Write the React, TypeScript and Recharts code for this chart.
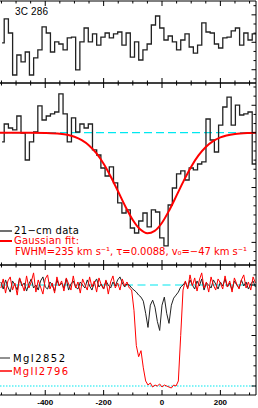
import { Line, LineChart, XAxis, YAxis } from "recharts"

const V_MIN = -555
const V_MAX = 322

// 21-cm spectra: 14.4 km/s bins, first bin centred just right of the left edge
const BIN_START = -547.8
const BIN_WIDTH = 14.4

// comparison source 3C 286 (flux change x 1000)
const ref3c286 = [
  -0.06, 2.04, 0.81, -2.86, -1.11, -1.72, -0.85, -2.86, -1.37, -0.67,
  1.34, 0.81, -0.85, 0.03, -0.15, -0.67, 0.38, 0.46, -2.42, 0.03,
  1.25, 0.03, 0.73, -0.24, 0.46, 0.81, 0.38, 0.73, 0.9, -0.24,
  0.81, -1.29, 0.03, -1.55, -0.67, -0.15, 1.51, 2.3, 1.25, 0.2,
  0.55, 0.03, -0.67, 0.2, 0.73, -0.41, -0.94, -0.24, 1.69, 0.9,
  0.81, -0.15, -0.5, 0.38, 0.46, 0.99, 1.25, -0.24, 0.81, 0.2,
  0.73, 0.03,
]

// target 21-cm absorption (flux change x 1000)
const target21cm = [
  -0.81, 0.76, 0.41, 0.24, 1.46, -0.03, -2.39, -0.81, 0.06, 2.34,
  1.11, 1.46, 1.64, 1.81, 3.39, 1.64, -0.81, 1.29, 0.06, 0.76,
  0.41, 0.76, -1.51, -1.95, -3.09, -3.79, -3.0, -4.4, -6.15, -7.03,
  -6.76, -8.34, -8.78, -7.73, -7.03, -8.25, -6.76, -6.94, -9.21, -9.91,
  -6.33, -4.84, -3.61, -3.35, -4.14, -3.09, -3.26, -2.74, -2.56, 1.2,
  -0.64, -1.69, 0.67, 2.25, 3.12, 0.67, 2.42, 1.55, 1.64, 1.81,
  -2.74, -2.39,
]

// Gaussian fit, FWHM 235 km/s, tau 0.0088, v0 -47 km/s
const fitVel = [
  -555, -450, -400, -350, -325, -300, -275, -250, -225, -200, -175, -150, -125, -100, -75,
  -50, -25, 0, 25, 50, 75, 100, 125, 150, 175, 200, 250, 300, 322,
]
const fitFlux = [
  0, 0, -0.02, -0.09, -0.18, -0.35, -0.65, -1.11, -1.79, -2.72, -3.87, -5.17, -6.48, -7.64, -8.46,
  -8.8, -8.59, -7.88, -6.78, -5.49, -4.17, -2.97, -1.99, -1.25, -0.74, -0.41, -0.11, -0.02, 0,
]

// optical spectra, 8 km/s pixels
const MG_START = -552
const MG_STEP = 8
const mgI2852 = [
  1.03, 0.96, 1.05, 0.98, 0.93, 1.04, 1.0, 0.95, 1.07, 0.99,
  1.02, 0.94, 1.01, 1.06, 0.97, 1.0, 0.95, 1.04, 1.08, 0.98,
  0.96, 1.03, 1.0, 0.94, 1.05, 0.99, 1.02, 0.97, 1.06, 0.95,
  1.01, 1.04, 0.98, 0.96, 1.03, 1.0, 0.97, 1.05, 0.99, 0.95,
  1.02, 1.06, 0.98, 1.01, 0.96, 1.04, 1.0, 0.97, 1.03, 0.99,
  1.05, 1.08, 1.02, 0.98, 1.01,
  1.0, 0.97, 0.95, 0.93, 0.9, 0.88, 0.84, 0.72, 0.58, 0.8,
  0.85, 0.78, 0.64, 0.55, 0.8, 0.88, 0.72, 0.62, 0.8, 0.87,
  0.9, 0.93, 0.98, 1.0,
  1.03, 0.97, 1.05, 1.0, 0.96, 1.04, 0.99, 1.06, 0.95, 1.02,
  1.0, 0.97, 1.05, 1.01, 0.96, 1.03, 0.99, 1.06, 0.98, 1.02,
  0.95, 1.04, 1.0, 0.97, 1.05, 0.99, 1.03, 0.96, 1.01, 1.04,
  0.98,
]
const mgII2796 = [
  0.97, 1.06, 0.92, 1.04, 1.08, 0.95, 1.02, 0.9, 1.07, 1.01,
  0.94, 1.09, 0.97, 1.03, 1.12, 0.93, 1.05, 0.98, 0.91, 1.06,
  1.1, 0.96, 1.02, 0.92, 1.08, 0.99, 1.04, 0.94, 1.07, 1.01,
  0.95, 1.09, 0.97, 1.03, 0.92, 1.06, 1.0, 0.95, 1.08, 0.98,
  1.04, 0.93, 1.07, 1.0, 0.96, 1.05, 0.91, 1.03, 1.09, 0.97,
  1.02, 0.95, 1.06, 0.99, 1.03,
  0.97, 0.95, 0.75, 0.4, 0.29, 0.35, 0.18, 0.05, 0.01, 0.03,
  -0.01, 0.01, 0.0, 0.02, -0.01, 0.01, 0.0, -0.01, -0.02, 0.01,
  0.0, 0.05, 0.5, 0.95,
  1.04, 0.96, 1.1, 0.99, 1.07, 0.94, 1.05, 1.12, 0.97, 1.03,
  0.93, 1.08, 1.0, 0.95, 1.06, 1.02, 0.96, 1.09, 0.98, 1.04,
  0.93, 1.07, 1.01, 0.96, 1.05, 1.1, 0.97, 1.03, 0.95, 1.08,
  1.02,
]

const majorX = [-400, -200, 0, 200]
const minorX = [-550, -500, -450, -350, -300, -250, -150, -100, -50, 50, 100, 150, 250, 300]

const hiMajorY = [-9.6, -4.8, 0, 2.4]
const hiMinorY = [
  -11.2, -10.4, -8.8, -8.0, -7.2, -6.4, -5.6, -4.0, -3.2, -2.4, -1.6, -0.8, 0.8, 1.6, 3.2, 4.0,
]
const topMajorY = [-2.4, 0, 2.4]
const topMinorY = [-3.2, -1.6, -0.8, 0.8, 1.6, 3.2]
const mgMajorY = [0, 0.5, 1.0]
const mgMinorY = [0.1, 0.2, 0.3, 0.4, 0.6, 0.7, 0.8, 0.9, 1.1]

const bins = (vals: number[]) => vals.map((y, i) => ({ v: BIN_START + i * BIN_WIDTH, y }))
const pixels = (vals: number[]) => vals.map((y, i) => ({ v: MG_START + i * MG_STEP, y }))
const fitData = fitVel.map((v, i) => ({ v, y: fitFlux[i] }))
const flat = (y: number) => [{ v: V_MIN, y }, { v: V_MAX, y }]

const W = 258
const INK = "#222"
const CYAN = "#00e8f0"
const THIN = 0.01
const noLabel = () => <g />

// box with inward ticks on bottom, top and right; near-zero-size mirrored axes
// so that the major and minor sets sit on the same edge
function frame(yDomain: [number, number], yMajor: number[], yMinor: number[], base: number) {
  const x = {
    type: "number" as const,
    domain: [V_MIN, V_MAX],
    allowDataOverflow: true,
    tick: noLabel,
    interval: 0 as const,
    stroke: "#000",
    tickLine: { stroke: "#000" },
    mirror: true,
    height: THIN,
  }
  const y = {
    type: "number" as const,
    domain: yDomain,
    allowDataOverflow: true,
    tick: noLabel,
    interval: 0 as const,
    stroke: "#000",
    tickLine: { stroke: "#000" },
    mirror: true,
    width: THIN,
    orientation: "right" as const,
  }
  const ghost = (xId: string, yId: string) => (
    <Line key={`g-${xId}-${yId}`} data={flat(base)} xAxisId={xId} yAxisId={yId} dataKey="y"
      stroke="none" dot={false} activeDot={false} isAnimationActive={false} />
  )
  return [
    <XAxis key="b" xAxisId="b" dataKey="v" orientation="bottom" ticks={majorX} tickSize={5} {...x} />,
    <XAxis key="bm" xAxisId="bm" dataKey="v" orientation="bottom" ticks={minorX} tickSize={2.5} axisLine={false} {...x} />,
    <XAxis key="t" xAxisId="t" dataKey="v" orientation="top" ticks={majorX} tickSize={5} {...x} />,
    <XAxis key="tm" xAxisId="tm" dataKey="v" orientation="top" ticks={minorX} tickSize={2.5} axisLine={false} {...x} />,
    <YAxis key="r" yAxisId="r" ticks={yMajor} tickSize={4.5} {...y} />,
    <YAxis key="rm" yAxisId="rm" ticks={yMinor} tickSize={2.5} axisLine={false} {...y} />,
    ghost("bm", "rm"),
    ghost("t", "r"),
    ghost("tm", "r"),
  ]
}

const legendFont = { fontFamily: "DejaVu Sans", fontSize: 10, lengthAdjust: "spacing" as const }

export default function App() {
  return (
    <div style={{ position: "absolute", left: 0, top: 0, width: W, height: 408, background: "#fff" }}>
      <div style={{ position: "absolute", left: 0, top: 0 }}>
        <LineChart width={W} height={84} margin={{ top: 1, right: 2, bottom: 1, left: 0 }}>
          {frame([-3.56, 3.61], topMajorY, topMinorY, 0)}
          <Line data={bins(ref3c286)} xAxisId="b" yAxisId="r" type="step" dataKey="y" stroke={INK}
            strokeWidth={1.3} dot={false} isAnimationActive={false} />
        </LineChart>
      </div>
      <div style={{ position: "absolute", left: 0, top: 82 }}>
        <LineChart width={W} height={184} margin={{ top: 1, right: 2, bottom: 1, left: 0 }}>
          {frame([-11.58, 4.35], hiMajorY, hiMinorY, 0)}
          <Line data={flat(0)} xAxisId="b" yAxisId="r" dataKey="y" stroke={CYAN} strokeWidth={1.3}
            strokeDasharray="8 4" dot={false} isAnimationActive={false} />
          <Line data={bins(target21cm)} xAxisId="b" yAxisId="r" type="step" dataKey="y" stroke={INK}
            strokeWidth={1.3} dot={false} isAnimationActive={false} />
          <Line data={fitData} xAxisId="b" yAxisId="r" type="monotone" dataKey="y" stroke="#ff0000"
            strokeWidth={2} dot={false} isAnimationActive={false} />
        </LineChart>
      </div>
      <div style={{ position: "absolute", left: 0, top: 264 }}>
        <LineChart width={W} height={144} margin={{ top: 1, right: 2, bottom: 0, left: 0 }}>
          {frame([-0.089, 1.198], mgMajorY, mgMinorY, 1)}
          <XAxis xAxisId="lab" dataKey="v" type="number" domain={[V_MIN, V_MAX]} allowDataOverflow orientation="bottom"
            ticks={majorX} interval={0} height={13} tickLine={false} axisLine={false} tickSize={0}
            tickMargin={4} tick={{ fontSize: 8, fontWeight: 700, fill: "#000", fontFamily: "Liberation Sans" }} />
          <Line data={flat(1)} xAxisId="b" yAxisId="r" dataKey="y" stroke={CYAN} strokeWidth={1.2}
            strokeDasharray="8 4.5" dot={false} isAnimationActive={false} />
          <Line data={flat(0)} xAxisId="lab" yAxisId="rm" dataKey="y" stroke={CYAN} strokeWidth={1.2}
            strokeDasharray="1.5 1.5" dot={false} isAnimationActive={false} />
          <Line data={pixels(mgI2852)} xAxisId="b" yAxisId="r" dataKey="y" stroke={INK}
            strokeWidth={1} dot={false} isAnimationActive={false} />
          <Line data={pixels(mgII2796)} xAxisId="b" yAxisId="r" dataKey="y" stroke="#ff0000"
            strokeWidth={1} dot={false} isAnimationActive={false} />
        </LineChart>
      </div>
      <svg width={W} height={408} style={{ position: "absolute", left: 0, top: 0, pointerEvents: "none" }}>
        <text x={15} y={15} fontFamily="Liberation Sans" fontSize={10} textLength={33} lengthAdjust="spacing">
          3C 286
        </text>
        <line x1={0} x2={12} y1={231} y2={231} stroke={INK} strokeWidth={1.3} />
        <text x={14} y={234} {...legendFont} textLength={65} fill="#000">21−cm data</text>
        <line x1={0} x2={12} y1={241} y2={241} stroke="#ff0000" strokeWidth={2} />
        <text x={14} y={244} {...legendFont} textLength={65} fill="#ff0000">Gaussian fit:</text>
        <text x={15} y={255} {...legendFont} textLength={232} fill="#ff0000">
          FWHM=235 km s⁻¹, τ=0.0088, v₀=−47 km s⁻¹
        </text>
        <line x1={0} x2={10} y1={358} y2={358} stroke={INK} strokeWidth={1} />
        <text x={13} y={362} {...legendFont} textLength={52} fill="#000">MgI2852</text>
        <line x1={0} x2={12} y1={371} y2={371} stroke="#ff0000" strokeWidth={1.5} />
        <text x={13} y={374.5} {...legendFont} textLength={55} fill="#ff0000">MgII2796</text>
      </svg>
    </div>
  )
}
